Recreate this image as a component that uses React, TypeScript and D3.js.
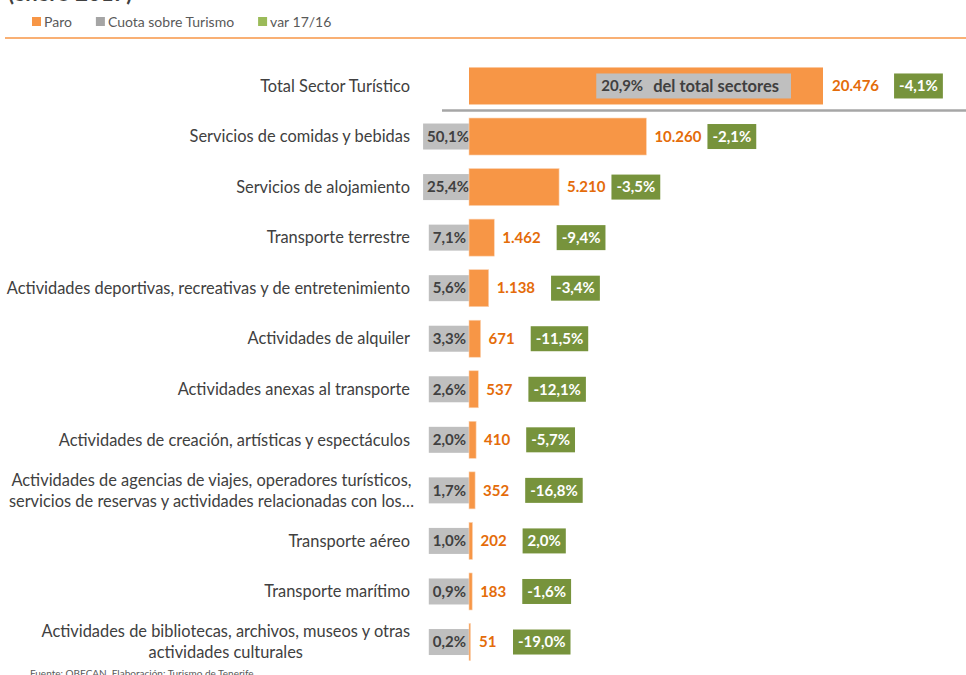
import { useEffect, useRef } from 'react';
import * as d3 from 'd3';

const categories = [
    ['Servicios de comidas y bebidas'],
    ['Servicios de alojamiento'],
    ['Transporte terrestre'],
    ['Actividades deportivas, recreativas y de entretenimiento'],
    ['Actividades de alquiler'],
    ['Actividades anexas al transporte'],
    ['Actividades de creación, artísticas y espectáculos'],
    ['Actividades de agencias de viajes, operadores turísticos,', 'servicios de reservas y actividades relacionadas con los…'],
    ['Transporte aéreo'],
    ['Transporte marítimo'],
    ['Actividades de bibliotecas, archivos, museos y otras', 'actividades culturales'],
];
const paro = [10260, 5210, 1462, 1138, 671, 537, 410, 352, 202, 183, 51];
const cuota = [50.1, 25.4, 7.1, 5.6, 3.3, 2.6, 2.0, 1.7, 1.0, 0.9, 0.2];
const variacion = [-2.1, -3.5, -9.4, -3.4, -11.5, -12.1, -5.7, -16.8, 2.0, -1.6, -19.0];

const totalLabel = 'Total Sector Turístico';
const totalParo = 20476;
const totalCuota = 20.9;
const totalVar = -4.1;

const legendItems = [
    { name: 'Paro', color: '#F79646' },
    { name: 'Cuota sobre Turismo', color: '#A5A5A5' },
    { name: 'var 17/16', color: '#9BBB59' },
];

const FONT = 'Lato, "Open Sans", sans-serif';
const ORANGE = '#F79646';
const ORANGE_TXT = '#E46C0A';
const GREY_BOX = '#BFBFBF';
const GREEN = '#77933C';
const TXT = '#404040';

const locale = d3.formatLocale({ decimal: ',', thousands: '.', grouping: [3], currency: ['', '€'], minus: '-' });
const fmtInt = locale.format(',d');
const fmtPct = (v: number) => locale.format('.1f')(v) + '%';

export default function App() {
    const svgRef = useRef<SVGSVGElement>(null);

    useEffect(() => {
        const svg = d3.select(svgRef.current);
        svg.selectAll('*').remove();

        const rows = ['total', ...categories.map((_, i) => 'c' + i)];
        const y = d3.scaleBand().domain(rows).range([60.7, 667.3]).paddingInner(0.268).paddingOuter(0.134);
        const x = d3.scaleLinear().domain([0, totalParo]).range([469, 823]);

        // title (cut off at top) and header
        svg.append('text').attr('x', 8).attr('y', 0.5).attr('font-family', FONT).attr('font-size', 22)
            .attr('font-weight', 700).attr('fill', TXT).text('(enero 2017)');

        let lx = 32;
        legendItems.forEach((d) => {
            svg.append('rect').attr('x', lx).attr('y', 17).attr('width', 9).attr('height', 9).attr('fill', d.color);
            const t = svg.append('text').attr('x', lx + 12).attr('y', 26.5).attr('font-family', FONT)
                .attr('font-size', 14).attr('fill', '#595959').text(d.name);
            lx += 12 + (t.node() as SVGTextElement).getComputedTextLength() + 24;
        });
        svg.append('line').attr('x1', 5).attr('x2', 966).attr('y1', 38).attr('y2', 38)
            .attr('stroke', ORANGE).attr('stroke-width', 1.5);

        const g = svg.append('g').attr('font-family', FONT);
        const bw = y.bandwidth();

        const addText = (sel: any, tx: number, ty: number, s: string, opts: any = {}) => {
            const t = sel.append('text').attr('x', tx).attr('y', ty).attr('dy', '0.35em')
                .attr('font-size', opts.size || 15).attr('font-weight', opts.bold ? 700 : 400)
                .attr('fill', opts.fill || TXT).attr('text-anchor', opts.anchor || 'start').text(s);
            return t;
        };
        const width = (t: any) => (t.node() as SVGTextElement).getComputedTextLength();

        const greenBox = (gx: number, cy: number, s: string) => {
            const r = g.append('rect').attr('y', cy - 12.5).attr('height', 25).attr('fill', GREEN).attr('x', gx);
            const t = addText(g, gx + 5, cy, s, { bold: true, fill: '#fff' });
            r.attr('width', width(t) + 10);
        };

        // total row
        const ty = (y('total') as number) + bw / 2;
        addText(g, 410, ty, totalLabel, { anchor: 'end', size: 16.4 });
        g.append('rect').attr('x', x(0)).attr('y', ty - bw / 2).attr('width', x(totalParo) - x(0)).attr('height', bw).attr('fill', ORANGE);
        const boxR = x(totalParo) - 32;
        const tb = g.append('rect').attr('y', ty - 12.5).attr('height', 25).attr('fill', GREY_BOX);
        const t1 = addText(g, 0, ty, fmtPct(totalCuota), { bold: true });
        const t2 = addText(g, 0, ty, 'del total sectores', { bold: true, size: 16.5 });
        const w1 = width(t1);
        const w2 = width(t2);
        const boxW = 5 + w1 + 10 + w2 + 12;
        const boxL = boxR - boxW;
        tb.attr('x', boxL).attr('width', boxW);
        t1.attr('x', boxL + 5);
        t2.attr('x', boxL + 5 + w1 + 10);
        const tv = addText(g, x(totalParo) + 9, ty, fmtInt(totalParo), { bold: true, fill: ORANGE_TXT });
        greenBox(x(totalParo) + 9 + width(tv) + 15, ty, fmtPct(totalVar));
        g.append('line').attr('x1', 442).attr('x2', 966).attr('y1', 110.5).attr('y2', 110.5)
            .attr('stroke', '#A6A6A6').attr('stroke-width', 2.5);

        // sector rows
        categories.forEach((lines, i) => {
            const cy = (y('c' + i) as number) + bw / 2;
            if (lines.length === 1) {
                addText(g, 410, cy, lines[0], { anchor: 'end', size: 16.4 });
            } else {
                const ts = lines.map((l, j) => addText(g, 0, cy + (j - (lines.length - 1) / 2) * 21, l, { anchor: 'middle', size: 16.4 }));
                const maxW = d3.max(ts, (t) => width(t)) as number;
                ts.forEach((t) => t.attr('x', 410 - maxW / 2 + (i === 7 ? 4 : 0)));
            }
            // cuota box
            const cr = g.append('rect').attr('y', cy - 13).attr('height', 26).attr('fill', GREY_BOX);
            const ct = addText(g, 0, cy, fmtPct(cuota[i]), { bold: true, anchor: 'end' });
            const cw = width(ct);
            const right = cuota[i] >= 10 ? 473 : 470;
            cr.attr('x', right - cw - 8).attr('width', cw + 8);
            ct.attr('x', right - 4);
            // bar
            const end = x(paro[i]);
            g.append('rect').attr('x', x(0)).attr('y', cy - bw / 2).attr('width', Math.max(end - x(0), 1.5))
                .attr('height', bw).attr('fill', ORANGE).attr('stroke', '#FBD3B3').attr('stroke-width', 0.6);
            const vt = addText(g, Math.max(end, x(0) + 2) + 8, cy, fmtInt(paro[i]), { bold: true, fill: ORANGE_TXT });
            const vEnd = Math.max(end, x(0) + 2) + 8 + width(vt);
            greenBox(Math.max(513, vEnd + (paro[i] > 3000 ? 6 : 16)), cy, fmtPct(variacion[i]));
        });

        svg.append('text').attr('x', 30).attr('y', 677).attr('font-family', FONT).attr('font-size', 10)
            .attr('fill', '#595959').text('Fuente: OBECAN. Elaboración: Turismo de Tenerife');
    }, []);

    return (
        <div style={{ position: 'absolute', left: 0, top: 0, width: 966, height: 675, background: '#fff' }}>
            <svg ref={svgRef} width={966} height={675} style={{ display: 'block' }} />
        </div>
    );
}
